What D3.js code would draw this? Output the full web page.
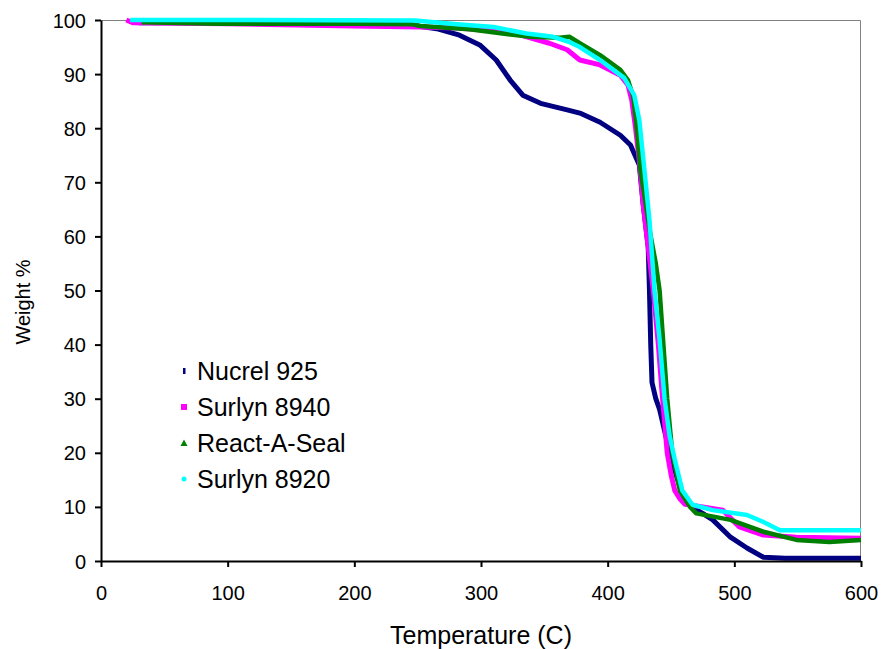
<!DOCTYPE html>
<html><head><meta charset="utf-8">
<script src="https://cdn.jsdelivr.net/npm/d3@7/dist/d3.min.js"></script>
<style>body{margin:0;background:#fff}svg{display:block}text{font-family:"Liberation Sans",Arial,sans-serif}</style>
</head><body>
<svg id="c" width="881" height="649"></svg>
<script>
const seriesNames = ["Nucrel 925","Surlyn 8940","React-A-Seal","Surlyn 8920"];
const seriesColors = ["#000080","#ff00ff","#008000","#00ffff"];
const nucrelT = [30,100,200,250,265,283,299,312,323,333,347,368,378,394,410,418,425,428,430,432,433,434,435,438,441,445,450,458,466,475,483,497,510,523,540,600];
const nucrelW = [99.5,99.5,99.3,98.9,98.4,97.2,95.4,92.6,88.9,86.1,84.6,83.4,82.8,81.1,78.7,76.9,73.2,66,62,58,50,40,33,30,28,24,19,13,10,8.8,7.6,4.4,2.4,0.7,0.5,0.5];
const s8940T = [20,25,100,200,252,281,310,330,354,368,378,394,410,416,419,422,425,428,432,436,440,443,447,450,453,457,461,475,491,504,523,549,600];
const s8940W = [100,99.5,99.3,98.9,98.7,98.5,98,97.3,95.7,94.5,92.6,91.7,89.8,88,85.2,80,74,66,58,50,40,31,20,16,13,11.5,10.5,10,9.4,6.3,4.8,4.4,4.2];
const rasT = [32,92,200,246,252,291,320,339,362,370,378,394,410,416,420,423,426,430,434,438,441,444,447,451,457,465,470,497,523,549,575,600];
const rasW = [99.6,99.3,99.3,99.2,98.9,98.3,97.4,96.9,96.7,96.9,95.7,93.5,90.8,88.9,86,80,72,66,60,55,50,40,30,20,13,10,8.8,7.6,5.4,3.9,3.5,3.9];
const s8920T = [23,100,248,281,310,336,357,370,378,394,413,421,425,429,433,437,441,445,449,453,459,467,483,510,523,536,600];
const s8920W = [100,100,99.9,99.2,98.7,97.5,96.9,95.9,95,92.6,89.3,86.1,81.5,72.3,63,50,40.9,29.8,23,18.7,13,10.4,9.4,8.5,7.2,5.7,5.7];
const xTicks = [0,100,200,300,400,500,600];
const yTicks = [0,10,20,30,40,50,60,70,80,90,100];

const seriesT = [nucrelT,s8940T,rasT,s8920T];
const seriesW = [nucrelW,s8940W,rasW,s8920W];
const widths = [5,5,4.5,4.5];

const svg = d3.select("#c");
const L=101,R=861,T=20,B=561;
const x = d3.scaleLinear().domain([0,600]).range([L,R]);
const y = d3.scaleLinear().domain([0,100]).range([B,T]);

svg.append("path").attr("d",`M${L},${T+0.5}H${R-0.5}V${B}`).attr("fill","none").attr("stroke","#808080").attr("stroke-width",1);

const line = d3.line().x(d=>x(d[0])).y(d=>y(d[1]));
seriesNames.forEach((n,i)=>{
  const pts = seriesT[i].map((t,j)=>[t,seriesW[i][j]]);
  svg.append("path").datum(pts).attr("d",line).attr("fill","none")
    .attr("stroke",seriesColors[i]).attr("stroke-width",widths[i]).attr("stroke-linejoin","round");
});

const xa = svg.append("g").attr("transform",`translate(0,${B})`).call(d3.axisBottom(x).tickValues(xTicks).tickSize(6).tickSizeOuter(0));
const ya = svg.append("g").attr("transform",`translate(${L},0)`).call(d3.axisLeft(y).tickValues(yTicks).tickSize(6).tickSizeOuter(0));
[xa,ya].forEach(a=>{
  a.select(".domain").attr("stroke","#000").attr("stroke-width",2);
  a.selectAll(".tick line").attr("stroke","#000").attr("stroke-width",2);
  a.selectAll(".tick text").attr("font-size",20).attr("fill","#000").attr("font-family","Liberation Sans, Arial, sans-serif");
});
xa.selectAll(".tick text").attr("dy",null).attr("y",39);
ya.selectAll(".tick text").attr("x",-15).attr("dy","0.35em");

svg.append("text").attr("x",481).attr("y",644).attr("text-anchor","middle").attr("font-size",25).text("Temperature (C)");
svg.append("text").attr("transform","translate(30,302) rotate(-90)").attr("text-anchor","middle").attr("font-size",20).text("Weight %");

const ly = [371,407,443,479];
seriesNames.forEach((n,i)=>{
  const g = svg.append("g").attr("transform",`translate(184,${ly[i]})`);
  if(i===0) g.append("rect").attr("x",-1).attr("y",-3).attr("width",2.5).attr("height",6).attr("fill",seriesColors[i]);
  if(i===1) g.append("rect").attr("x",-3).attr("y",-3).attr("width",6).attr("height",6).attr("fill",seriesColors[i]);
  if(i===2) g.append("path").attr("d","M0,-3.5L3.5,3L-3.5,3Z").attr("fill",seriesColors[i]);
  if(i===3) g.append("circle").attr("r",2.5).attr("fill",seriesColors[i]);
  svg.append("text").attr("x",197).attr("y",ly[i]).attr("dy","0.36em").attr("font-size",25).text(n);
});
</script>
</body></html>
